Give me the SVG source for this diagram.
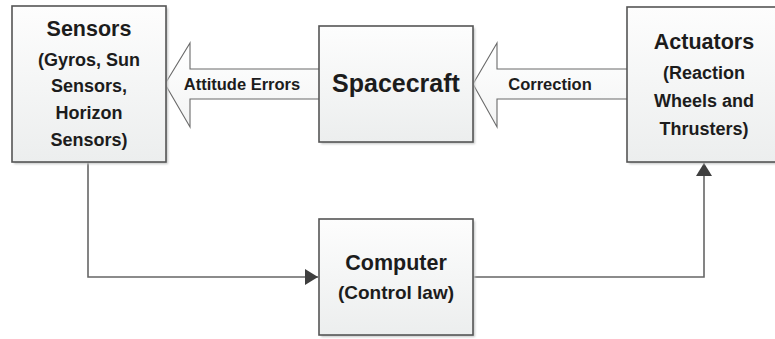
<svg xmlns="http://www.w3.org/2000/svg" width="775" height="339" viewBox="0 0 775 339">
  <defs>
    <linearGradient id="boxFill" x1="0" y1="0" x2="0" y2="1">
      <stop offset="0" stop-color="#fdfdfd"/>
      <stop offset="1" stop-color="#eceeee"/>
    </linearGradient>
    <linearGradient id="arrowFill" x1="0" y1="0" x2="0" y2="1">
      <stop offset="0" stop-color="#ffffff"/>
      <stop offset="1" stop-color="#f3f4f4"/>
    </linearGradient>
    <filter id="soft" x="-10%" y="-10%" width="130%" height="130%">
      <feGaussianBlur stdDeviation="1"/>
    </filter>
    <marker id="head" markerUnits="userSpaceOnUse" markerWidth="14" markerHeight="16" refX="13" refY="8" orient="auto">
      <path d="M0,0 L13,8 L0,16 z" fill="#3f3f3f"/>
    </marker>
  </defs>
  <style>
    .shadow { fill: #c4c6c6; filter: url(#soft); }
    .box { fill: url(#boxFill); stroke: #555; stroke-width: 1.6; }
    .block { fill: url(#arrowFill); stroke: #6a6a6a; stroke-width: 1.1; stroke-linejoin: miter; }
    .link { fill: none; stroke: #666; stroke-width: 1.6; }
    text { font-family: "Liberation Sans", Arial, sans-serif; font-weight: bold; fill: #1c1c1c; text-anchor: middle; }
    .title { font-size: 21.5px; }
    .big { font-size: 25px; }
    .sub { font-size: 18px; }
    .law { font-size: 19px; }
    .label { font-size: 16.5px; }
  </style>
  <rect width="775" height="339" fill="#ffffff"/>

  <!-- connectors -->
  <g id="connectors">
    <path class="link" d="M88,162 V277 H318" marker-end="url(#head)"/>
    <path class="link" d="M473,277 H704 V163" marker-end="url(#head)"/>

    <polygon class="block" points="165,84 190,43 190,69 320,69 320,99 190,99 190,127"/>
    <text class="label" x="242" y="90">Attitude Errors</text>

    <polygon class="block" points="473,84 497,43 497,69 628,69 628,99 497,99 497,127"/>
    <text class="label" x="550" y="90">Correction</text>
  </g>

  <!-- Sensors -->
  <g id="sensors">
    <rect class="shadow" x="14" y="8" width="154" height="156"/>
    <rect class="box" x="12" y="6" width="154" height="156"/>
    <text class="title" x="89" y="36">Sensors</text>
    <text class="sub" x="89" y="66">(Gyros, Sun</text>
    <text class="sub" x="89" y="92">Sensors,</text>
    <text class="sub" x="89" y="119">Horizon</text>
    <text class="sub" x="89" y="146">Sensors)</text>
  </g>

  <!-- Spacecraft -->
  <g id="spacecraft">
    <rect class="shadow" x="321" y="28" width="154" height="116"/>
    <rect class="box" x="319" y="26" width="154" height="116"/>
    <text class="big" x="396" y="92">Spacecraft</text>
  </g>

  <!-- Actuators -->
  <g id="actuators">
    <rect class="shadow" x="629" y="9" width="154" height="155"/>
    <rect class="box" x="627" y="7" width="154" height="155"/>
    <text class="title" x="704" y="49">Actuators</text>
    <text class="sub" x="704" y="79">(Reaction</text>
    <text class="sub" x="704" y="107">Wheels and</text>
    <text class="sub" x="704" y="135">Thrusters)</text>
  </g>

  <!-- Computer -->
  <g id="computer">
    <rect class="shadow" x="321" y="221" width="154" height="116"/>
    <rect class="box" x="319" y="219" width="154" height="116"/>
    <text class="title" x="396" y="270">Computer</text>
    <text class="law" x="396" y="299">(Control law)</text>
  </g>
</svg>
